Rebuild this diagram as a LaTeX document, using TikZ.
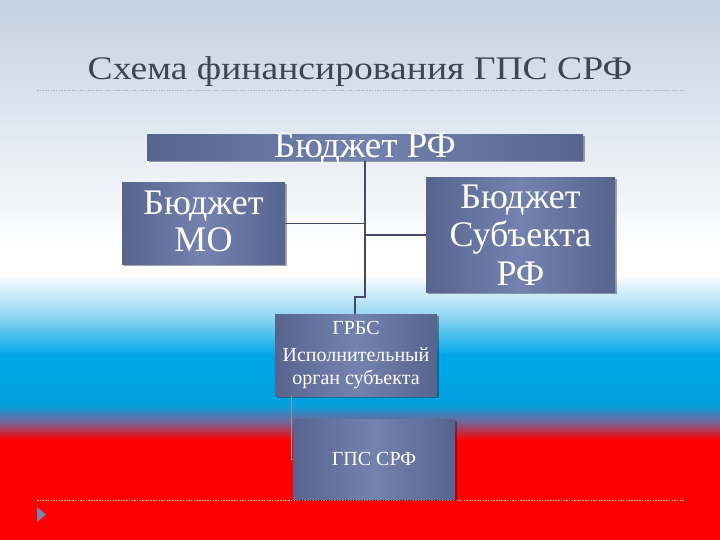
\documentclass[tikz,border=0pt]{standalone}
\usepackage{fontspec}
\setmainfont{Liberation Serif}
\newfontfamily\titlefont[FakeStretch=1.14]{Liberation Serif}
\usetikzlibrary{shadows}
\definecolor{bgtop}{RGB}{196,209,223}
\definecolor{bgmid}{RGB}{216,226,236}
\definecolor{lblue}{RGB}{150,214,243}
\definecolor{rublue}{RGB}{0,168,232}
\definecolor{rublue2}{RGB}{0,160,222}
\definecolor{trans}{RGB}{120,100,150}
\definecolor{rured}{RGB}{255,0,0}
\definecolor{boxedge}{RGB}{86,100,142}
\definecolor{boxmid}{RGB}{116,130,175}
\definecolor{linecol}{RGB}{66,74,108}
\definecolor{titlecol}{RGB}{64,70,80}
\definecolor{dotgray}{RGB}{175,182,190}
\definecolor{dotpink}{RGB}{255,185,185}
\definecolor{marker}{RGB}{118,132,176}
\tikzset{
  box/.style={shade, left color=boxedge, right color=boxedge, middle color=boxmid,
    text=white, align=center, inner sep=0pt,
    drop shadow={shadow xshift=1.5pt, shadow yshift=-1.5pt, opacity=0.35, fill=black}},
  conn/.style={draw=linecol, line width=1.6pt},
  thinconn/.style={draw=linecol!60, line width=1pt},
  sepline/.style={line width=0.8pt, dash pattern=on 1.5pt off 1.2pt}
}
\begin{document}
\begin{tikzpicture}[x=1pt,y=-1pt]
\useasboundingbox (0,0) rectangle (720,540);
% background
\shade[top color=bgtop, bottom color=bgmid] (0,0) rectangle (720,95);
\shade[top color=bgmid, bottom color=white] (0,94.5) rectangle (720,250);
\fill[white] (0,249.5) rectangle (720,275);
\shade[top color=white, bottom color=rublue, middle color=lblue] (0,274.5) rectangle (720,355);
\shade[top color=rublue, bottom color=rublue2] (0,354.5) rectangle (720,405);
\shade[top color=rublue2, bottom color=rured, middle color=trans] (0,404.5) rectangle (720,440);
\fill[rured] (0,439.5) rectangle (720,540);
% title
\node[text=titlecol, anchor=base, inner sep=0pt, font=\titlefont\fontsize{33}{40}\selectfont] (title) at (360,80) {Схема финансирования ГПС СРФ};
\draw[sepline, draw=dotgray] (37,90) -- (685,90);
\draw[sepline, draw=dotpink] (37,500) -- (685,500);
\fill[marker] (37,507) -- (46,514.5) -- (37,522) -- cycle;
\coordinate (j1) at (365,297);
\coordinate (j2) at (355,297);
\coordinate (g1) at (291,396);
% boxes
\node[box, minimum width=436, minimum height=26, text height=23pt, text depth=3pt, font=\fontsize{37}{40}\selectfont] (rf) at (365,148) {Бюджет РФ};
\node[box, minimum width=163, minimum height=81, font=\fontsize{36}{37}\selectfont] (mo) at (203.5,223.5) {Бюджет\\МО\rule[-5pt]{0pt}{5pt}};
\node[box, minimum width=189, minimum height=114, font=\fontsize{36}{38.5}\selectfont] (subj) at (520.5,235) {Бюджет\\Субъекта\\РФ};
\node[box, minimum width=162, minimum height=82, font=\fontsize{20}{23}\selectfont] (grbs) at (356,355) {ГРБС\\[4pt]Исполнительный\\орган субъекта};
\draw[conn] (rf.south) -- (j1) -- (j2) -- (j2 |- grbs.north);
\draw[conn] (mo.east) -- (mo.east -| rf.south);
\draw[conn] (subj.west) -- (subj.west -| rf.south);
\draw[thinconn] (g1) -- (g1 |- 0,459);
\node[box, minimum width=162, minimum height=80, font=\fontsize{20}{22}\selectfont] (gps) at (374,459) {ГПС СРФ};
\draw[thinconn] (g1 |- gps.west) -- (gps.west);
\end{tikzpicture}
\end{document}
